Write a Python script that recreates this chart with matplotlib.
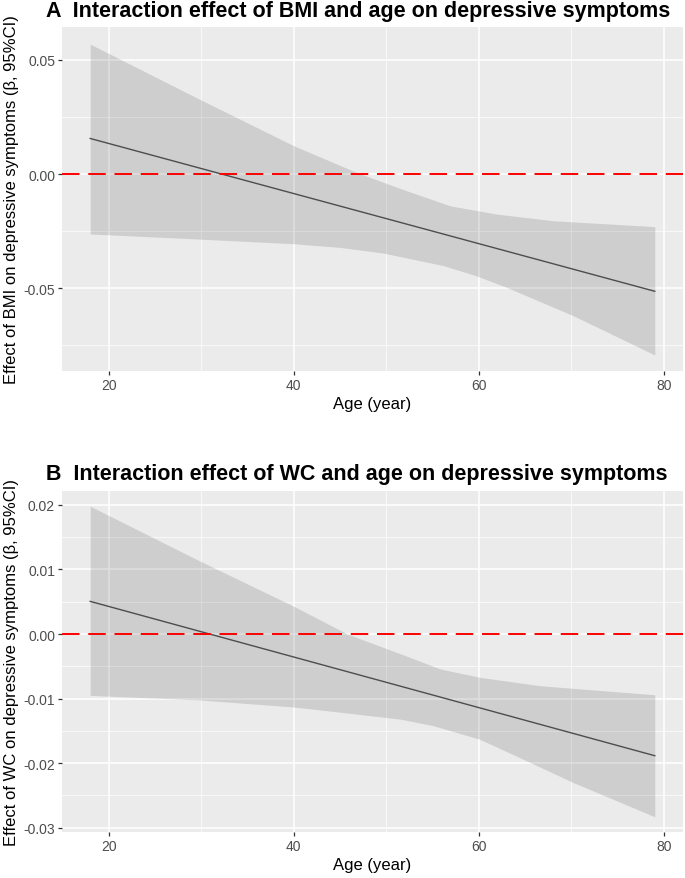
import numpy as np
import matplotlib
matplotlib.use("Agg")
import matplotlib.pyplot as plt
from matplotlib.ticker import MultipleLocator

plt.rcParams['font.family'] = ['Liberation Sans', 'DejaVu Sans']

# panel A: BMI x age
age_a = [18, 29.8, 40, 46.8, 51.5, 56.9, 61.9, 68.0, 79]
upper_a = [0.0569, 0.0328, 0.0124, 0.0007, -0.0063, -0.0139, -0.0175, -0.0204, -0.0230]
age_a_lo = [18, 30, 40, 45, 49.7, 56.2, 59.7, 63.0, 70.2, 79]
lower_a = [-0.0262, -0.0285, -0.0305, -0.0321, -0.0346, -0.0401, -0.0445, -0.0496, -0.0620, -0.0792]
line_a = [0.0156, -0.0513]

# panel B: WC x age
age_b = [18, 29.8, 40, 45.8, 51.6, 55.8, 60.1, 66.6, 79]
upper_b = [0.0198, 0.01135, 0.0043, 0.0, -0.0031, -0.0054, -0.0067, -0.0080, -0.0094]
age_b_lo = [18, 29.8, 40, 45, 51.6, 55.1, 60.1, 64.8, 70.2, 79]
lower_b = [-0.0095, -0.0102, -0.0113, -0.0121, -0.0132, -0.0142, -0.0163, -0.0194, -0.0230, -0.0283]
line_b = [0.00506, -0.01884]

line_x = [18, 79]

W, H = 685, 879
fig = plt.figure(figsize=(W / 100, H / 100), dpi=100)


def panel(top, bottom, title, ylabel, ages, up, ages_lo, lo, line, ymaj, yminor, ylim, yfmt):
    ax = fig.add_axes([62 / W, 1 - bottom / H, (683 - 62) / W, (bottom - top) / H])
    ax.set_facecolor('#EBEBEB')
    for s in ax.spines.values():
        s.set_visible(False)
    grid = np.linspace(18, 79, 300)
    u = np.interp(grid, ages, up)
    l = np.interp(grid, ages_lo, lo)
    ax.fill_between(grid, l, u, color='black', alpha=0.12, lw=0, zorder=2)
    ax.plot(line_x, line, color='#4D4D4D', lw=1.0, zorder=3)
    ax.axhline(0, color='#FF0000', lw=1.4, dashes=(9, 4.5), zorder=4)
    ax.set_xlim(14.95, 82.05)
    ax.set_ylim(*ylim)
    ax.xaxis.set_major_locator(MultipleLocator(20))
    ax.xaxis.set_minor_locator(MultipleLocator(10))
    ax.yaxis.set_major_locator(MultipleLocator(ymaj))
    ax.yaxis.set_minor_locator(MultipleLocator(yminor))
    ax.grid(which='major', color='white', lw=1.1, zorder=0)
    ax.grid(which='minor', color='white', lw=0.5, zorder=0)
    ax.set_axisbelow(True)
    ax.tick_params(which='major', length=3, width=0.9, color='#333333',
                   labelcolor='#4D4D4D', labelsize=10, pad=2)
    ax.tick_params(which='minor', length=0)
    ax.yaxis.set_major_formatter(plt.FuncFormatter(lambda v, p: yfmt.format(v).replace('-0.00', '0.00')))
    ax.set_xlabel('Age (year)', fontsize=12, labelpad=3)
    ax.set_ylabel(ylabel, fontsize=12, labelpad=3)
    fig.text(46 / W, 1 - (top - 17) / H, title, fontsize=15.5, fontweight='bold', va='center', ha='left')
    return ax


panel(28, 372, 'A  Interaction effect of BMI and age on depressive symptoms',
      'Effect of BMI on depressive symptoms (β, 95%CI)',
      age_a, upper_a, age_a_lo, lower_a, line_a, 0.05, 0.025, (-0.0862, 0.0644), '{:.2f}')
panel(491.7, 833.3, 'B  Interaction effect of WC and age on depressive symptoms',
      'Effect of WC on depressive symptoms (β, 95%CI)',
      age_b, upper_b, age_b_lo, lower_b, line_b, 0.01, 0.005, (-0.0307, 0.0222), '{:.2f}')

fig.savefig('out.png', dpi=100, facecolor='white')
